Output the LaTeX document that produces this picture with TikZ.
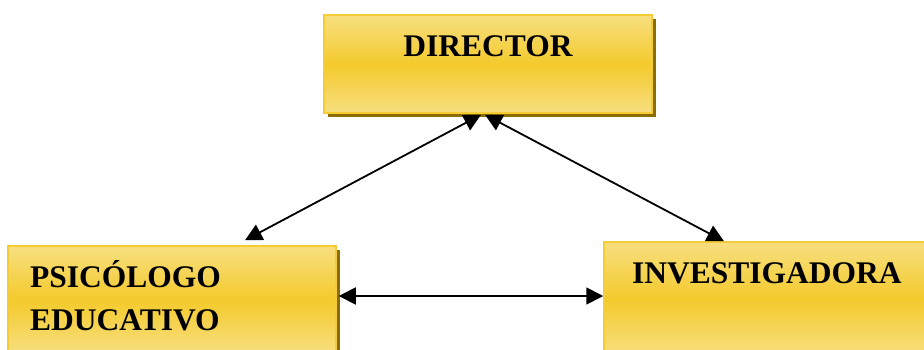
\documentclass[tikz,border=0pt]{standalone}
\usepackage{fontspec}
\setmainfont{Liberation Serif}
\usetikzlibrary{positioning, arrows.meta, shadows}
\definecolor{boxlight}{HTML}{F7DF80}
\definecolor{boxdark}{HTML}{F4CA2C}
\definecolor{boxline}{HTML}{F5CC35}
\definecolor{boxshadow}{HTML}{8C6D00}
\tikzset{
rolebox/.style={draw=boxline, line width=1.5pt, top color=boxlight, bottom color=boxlight, middle color=boxdark,
  minimum width=328pt, drop shadow={shadow xshift=4pt, shadow yshift=-4pt, fill=boxshadow, opacity=1}}, % the yellow boxes
rolelabel/.style={inner sep=0pt, font=\fontsize{31.5}{43}\selectfont\bfseries, align=left}, % the text in the boxes
link/.style={line width=1.8pt, {Triangle[length=17pt,width=17pt]}-{Triangle[length=17pt,width=17pt]}}, % two-headed arrows
}

\begin{document}
\begin{tikzpicture}[x=1pt, y=-1pt]
        \useasboundingbox (0,0) rectangle (924,349);
        \clip (0,0) rectangle (924,349);

        \node[rolebox, minimum height=98pt] (dir) at (488,64) {};
        \node[rolebox, minimum height=108pt] (psi) at (172,300) {};
        \node[rolebox, minimum height=114pt] (inv) at (768,299) {};

        \node[rolelabel, anchor=base] (dirtxt) at (488,56) {DIRECTOR};
        \node[rolelabel, anchor=base west] (psitxt) at (30,330) {PSICÓLOGO\\EDUCATIVO};
        \node[rolelabel, anchor=base west] (invtxt) at (632,283) {INVESTIGADORA};

        \coordinate (dirl) at ([xshift=-7pt, yshift=-1pt]dir.south);
        \coordinate (dirr) at ([xshift=-3pt, yshift=-1pt]dir.south);
        \coordinate (psitop) at ([xshift=73pt, yshift=5pt]psi.north);
        \coordinate (invtop) at ([xshift=-44pt]inv.north);
        \coordinate (psiside) at ([xshift=2pt, yshift=4pt]psi.east);

        \draw[link] (dirl) -- (psitop);
        \draw[link] (dirr) -- (invtop);
        \draw[link] (psiside) -- (psiside -| inv.west);

    \end{tikzpicture}
\end{document}
